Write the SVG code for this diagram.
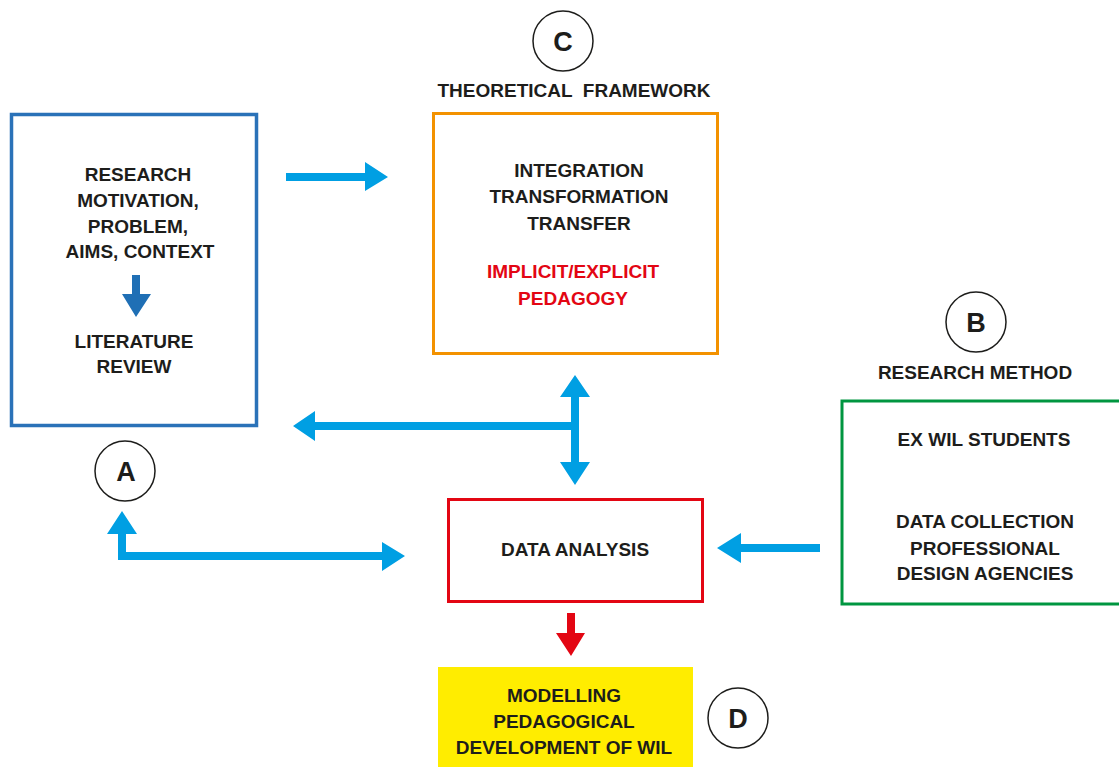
<svg xmlns="http://www.w3.org/2000/svg" width="1119" height="767" viewBox="0 0 1119 767">
<style>
.t{font-family:"Liberation Sans",Arial,sans-serif;font-weight:bold;font-size:19px;fill:#1d1d1b;text-anchor:middle}
.r{fill:#e30613}
.lt{font-family:"Liberation Sans",Arial,sans-serif;font-weight:bold;font-size:27px;fill:#1d1d1b;text-anchor:middle}
.circ{fill:#fff;stroke:#1d1d1b;stroke-width:1.5}
.ar{fill:#009fe3}
</style>
<rect width="1119" height="767" fill="#fff"/>
<g id="nodeA">
<rect x="11.5" y="114.5" width="245" height="311" fill="none" stroke="#2a72b8" stroke-width="3.5"/>
<text class="t" x="138" y="181">RESEARCH</text>
<text class="t" x="138" y="207">MOTIVATION,</text>
<text class="t" x="138" y="233">PROBLEM,</text>
<text class="t" x="140" y="258">AIMS, CONTEXT</text>
<path d="M132 275H140V294H151L136 317L122 294H132Z" fill="#1f6fb5"/>
<text class="t" x="134" y="348">LITERATURE</text>
<text class="t" x="134" y="373">REVIEW</text>
</g>
<g id="labelA">
<circle class="circ" cx="125" cy="471" r="30"/>
<text class="lt" x="126" y="481">A</text>
</g>
<g id="nodeC">
<circle class="circ" cx="563" cy="41" r="30"/>
<text class="lt" x="563" y="51">C</text>
<text class="t" x="574" y="97" xml:space="preserve">THEORETICAL  FRAMEWORK</text>
<rect x="433.5" y="113.5" width="284" height="240" fill="none" stroke="#f39200" stroke-width="3"/>
<text class="t" x="579" y="177">INTEGRATION</text>
<text class="t" x="579" y="203">TRANSFORMATION</text>
<text class="t" x="579" y="230">TRANSFER</text>
<text class="t r" x="573" y="278">IMPLICIT/EXPLICIT</text>
<text class="t r" x="573" y="305">PEDAGOGY</text>
</g>
<g id="nodeB">
<circle class="circ" cx="976" cy="322" r="30"/>
<text class="lt" x="976" y="332">B</text>
<text class="t" x="975" y="379">RESEARCH METHOD</text>
<rect x="842" y="401" width="290" height="203" fill="none" stroke="#009640" stroke-width="3"/>
<text class="t" x="984" y="446">EX WIL STUDENTS</text>
<text class="t" x="985" y="528">DATA COLLECTION</text>
<text class="t" x="985" y="555">PROFESSIONAL</text>
<text class="t" x="985" y="580">DESIGN AGENCIES</text>
</g>
<g id="nodeDataAnalysis">
<rect x="448.5" y="499.5" width="254" height="102" fill="none" stroke="#e30613" stroke-width="3"/>
<text class="t" x="575" y="556">DATA ANALYSIS</text>
</g>
<g id="nodeD">
<rect x="438" y="667" width="255" height="100" fill="#ffed00"/>
<text class="t" x="564" y="702">MODELLING</text>
<text class="t" x="564" y="728">PEDAGOGICAL</text>
<text class="t" x="564" y="754">DEVELOPMENT OF WIL</text>
<circle class="circ" cx="738" cy="718" r="30"/>
<text class="lt" x="738" y="728">D</text>
</g>
<g id="connectors">
<path class="ar" d="M286 173H365V162L388 177L365 191V181H286Z"/>
<path class="ar" d="M293 426L315 411V422H571V397H560L575 375L590 397H579V462H590L575 485L560 462H571V430H315V441Z"/>
<path class="ar" d="M122 511L137 534H126V552H382V542L405 556L382 571V560H118V534H107Z"/>
<path class="ar" d="M717 548L741 533V544H820V552H741V563Z"/>
<path d="M567 613H575V633H585L571 656L556 633H567Z" fill="#e30613"/>
</g>
</svg>
